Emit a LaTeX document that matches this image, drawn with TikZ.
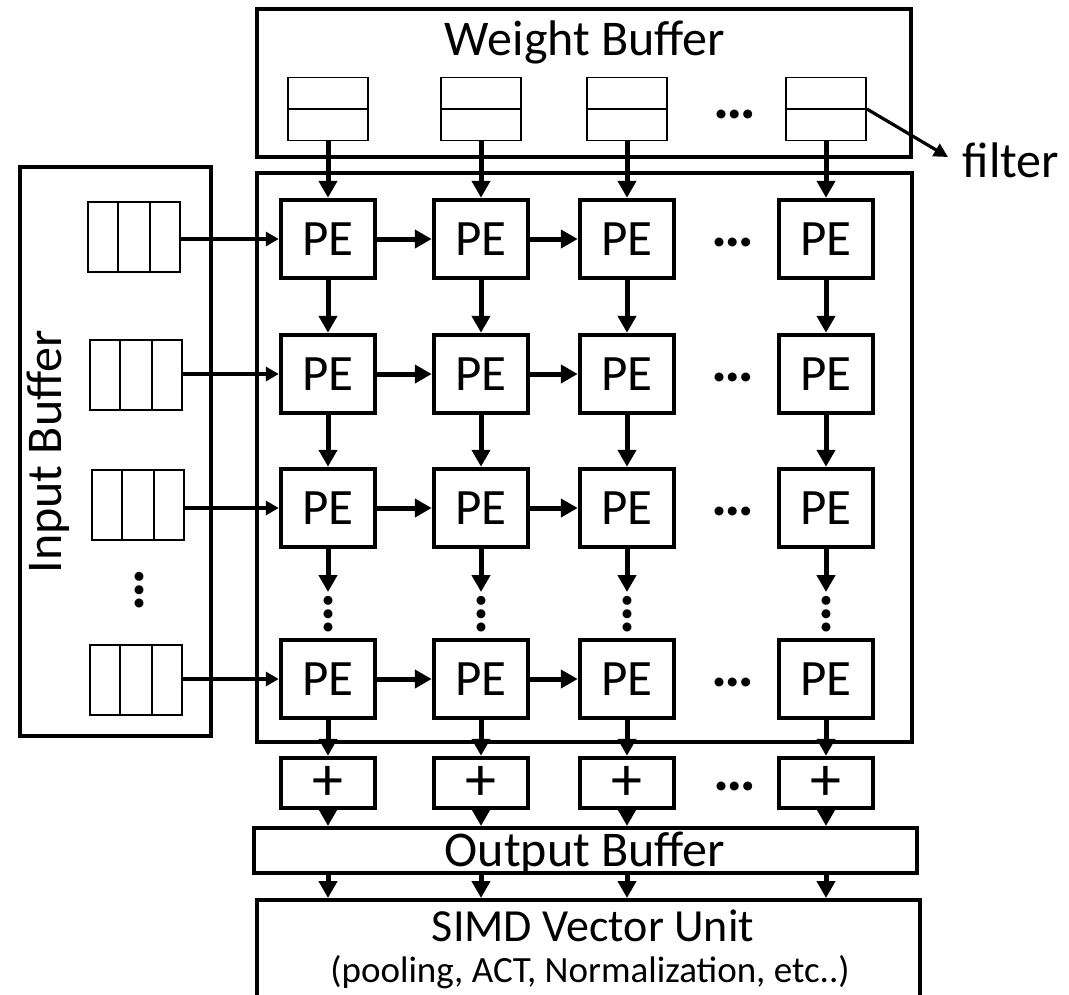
\documentclass[tikz,border=0pt]{standalone}
\usepackage{fontspec}
\setmainfont{Carlito}
\usetikzlibrary{arrows.meta,calc}
\begin{document}
\begin{tikzpicture}[x=1pt,y=-1pt,
  bigbox/.style={draw,line width=4pt,inner sep=0pt},
  pebox/.style={draw,line width=4.5pt,minimum width=94pt,minimum height=78pt,inner sep=0pt,font=\fontsize{51}{51}\selectfont},
  plusbox/.style={draw,line width=4.5pt,minimum width=94pt,minimum height=50pt,inner sep=0pt,font=\fontsize{62}{62}\selectfont},
  wq/.style={draw,line width=1.8pt,minimum width=80pt,minimum height=63pt,inner sep=0pt},
  iq/.style={draw,line width=1.8pt,minimum width=92pt,minimum height=70pt,inner sep=0pt},
  thick arrow/.style={line width=5pt,-{Triangle[length=17pt,width=18pt]}},
  thin arrow/.style={line width=3.2pt,-{Triangle[length=13pt,width=14pt]}},
  lbl/.style={inner sep=0pt,font=\fontsize{50}{50}\selectfont},
  dots/.style={inner sep=0pt,font=\fontsize{60}{60}\selectfont\bfseries}
]
\useasboundingbox (0,0) rectangle (1069,994);
% big boxes
\node[bigbox,minimum width=654pt,minimum height=148pt] (wb) at (584,83) {};
\node[bigbox,minimum width=655pt,minimum height=569pt] (arr) at (584.5,457.5) {};
\node[bigbox,minimum width=191pt,minimum height=569pt] (ib) at (115.5,451.5) {};
\node[bigbox,minimum width=663pt,minimum height=45pt] (ob) at (585.5,850.5) {};
\node[bigbox,minimum width=663pt,minimum height=100pt] (simd) at (588.5,950) {};
% labels
\node[lbl] (wbl) at (585,42) {Weight Buffer};
\node[lbl,rotate=90] (ibl) at (48,452) {Input Buffer};
\node[lbl] (obl) at (585,853) {Output Buffer};
\node[inner sep=0pt,font=\fontsize{46}{46}\selectfont] (simdl) at (593,926) {SIMD Vector Unit};
\node[inner sep=0pt,font=\fontsize{37}{37}\selectfont] (simdl2) at (590,972) {(pooling, ACT, Normalization, etc..)};
\node[lbl] (filt) at (1011,160) {filter};
% weight queues
\foreach \c/\x in {1/328,2/481,3/627,4/826}{
  \node[wq] (w\c) at (\x,109) {};
  \draw[line width=1.8pt] (w\c.west) -- (w\c.east);
}
\node[dots] (wdots) at (735,114) {…};
\draw[line width=3.2pt,-{Triangle[length=14pt,width=14pt]}] (w4.east) -- (948,157);
% PEs
\foreach \r/\y in {1/239,2/374,3/508,4/679}{
  \foreach \c/\x in {1/328,2/481,3/627,4/826}{
    \node[pebox] (p\r\c) at (\x,\y) {PE};
  }
  \node[dots] (pd\r) at (733,\y+3) {…};
}
% plus
\foreach \c/\x in {1/328,2/481,3/627,4/826}{
  \node[plusbox] (s\c) at (\x,783) {+};
}
\node[dots] (sdots) at (735,786) {…};
% input queues
\foreach \r/\x/\y in {1/134/237,2/136/375,3/138/505,4/136/680}{
  \node[iq] (q\r) at (\x,\y) {};
  \draw[line width=1.8pt] ($(q\r.north west)!1/3!(q\r.north east)$) -- ($(q\r.south west)!1/3!(q\r.south east)$);
  \draw[line width=1.8pt] ($(q\r.north west)!2/3!(q\r.north east)$) -- ($(q\r.south west)!2/3!(q\r.south east)$);
}
\node[dots,rotate=90] (qdots) at (139,590) {…};
% horizontal arrows
\foreach \r in {1,2,3,4}{
  \draw[thin arrow] (q\r.east |- p\r1.west) -- (p\r1.west);
  \draw[thick arrow] (p\r1.east) -- (p\r2.west);
  \draw[thick arrow] (p\r2.east) -- (p\r3.west);
}
% vertical arrows
\foreach \c/\x in {1/328,2/481,3/627,4/826}{
  \draw[thick arrow] (w\c.south) -- (p1\c.north);
  \draw[thick arrow] (p1\c.south) -- (p2\c.north);
  \draw[thick arrow] (p2\c.south) -- (p3\c.north);
  \coordinate (m\c) at (\x,592);
  \draw[thick arrow] (p3\c.south) -- (m\c);
  \node[dots,rotate=90] (vd\c) at (\x,614) {…};
  \draw[thick arrow] (p4\c.south) -- (s\c.north);
  \draw[thick arrow] (s\c.south) -- (s\c.south |- ob.north);
  \draw[thick arrow] (s\c.south |- ob.south) -- (s\c.south |- simd.north);
}
\end{tikzpicture}
\end{document}
